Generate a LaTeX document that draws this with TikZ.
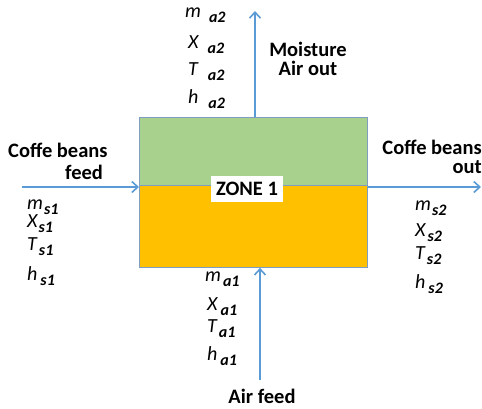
\documentclass[tikz,border=0pt]{standalone}
\usepackage{fontspec}
\setmainfont{Carlito}
\usetikzlibrary{arrows.meta}
\definecolor{zonegreen}{HTML}{A9D18E}
\definecolor{zoneorange}{HTML}{FFC000}
\definecolor{flowblue}{HTML}{5B9BD5}
\definecolor{edgeblue}{HTML}{7F9DC0}
% quantity with a lowered bold-italic subscript
\newcommand\flowq[3][1pt]{{\itshape #2}\hspace{#1}\raisebox{-5pt}{\fontsize{16}{16}\selectfont\bfseries\itshape #3}}
\tikzset{
  zonebox/.style={draw=edgeblue, line width=0.8pt, anchor=north west, inner sep=0pt},
  flow/.style={draw=flowblue, line width=1.8pt, -{Straight Barb[length=6pt,width=11pt,line width=1.6pt]}},
  caption/.style={font=\fontsize{20.5}{19}\selectfont\bfseries, inner sep=0pt},
  qty/.style={font=\fontsize{20}{20}\selectfont, inner sep=0pt, anchor=west},
}
\begin{document}
\begin{tikzpicture}[x=1pt,y=-1pt]
\useasboundingbox (0,0) rectangle (482,408);
% drying zone: air space above, bean bed below
\node[zonebox, fill=zonegreen, minimum width=228pt, minimum height=68pt] (upper) at (139,117) {};
\node[zonebox, fill=zoneorange, minimum width=228pt, minimum height=82pt] (lower) at (139,185) {};
\node[fill=white, inner xsep=5pt, inner ysep=6pt, font=\fontsize{20.5}{20}\selectfont\bfseries] (zone) at (247,189) {ZONE 1};

% stream end points
\coordinate (beansin) at (22,187);
\coordinate (beansout) at (481,187);
\coordinate (airout) at (255,11);
\coordinate (airin) at (260,380);

\draw[flow] (beansin) -- (beansin -| upper.west);
\draw[flow] (beansout -| upper.east) -- (beansout);
\draw[flow] (airout |- upper.north) -- (airout);
\draw[flow] (airin) -- (airin |- lower.south);

% stream captions
\node[caption, anchor=west] (feedA) at (8,150) {Coffe beans};
\node[caption, anchor=west] (feedB) at (65,172) {feed};
\node[caption, anchor=east, align=right] (beanscap) at (482,157) {Coffe beans\\out};
\node[caption, align=center] (moistcap) at (308,59) {Moisture\\Air out};
\node[caption] (airfeed) at (262,396) {Air feed};

% air outlet properties
\node[qty] (ma2) at (185,15) {\flowq[8pt]{m}{a2}};
\node[qty] (xa2) at (188,45) {\flowq[9pt]{X}{a2}};
\node[qty] (ta2) at (188,72) {\flowq[10pt]{T}{a2}};
\node[qty] (ha2) at (188,99) {\flowq[10pt]{h}{a2}};

% bean inlet properties
\node[qty] (ms1) at (27,207) {\flowq{m}{s1}};
\node[qty] (xs1) at (27,224) {\flowq{X}{s1}};
\node[qty] (ts1) at (27,247) {\flowq[2pt]{T}{s1}};
\node[qty] (hs1) at (27,276) {\flowq[3pt]{h}{s1}};

% bean outlet properties
\node[qty] (ms2) at (415,208) {\flowq{m}{s2}};
\node[qty] (xs2) at (415,233) {\flowq[2pt]{X}{s2}};
\node[qty] (ts2) at (415,256) {\flowq[2pt]{T}{s2}};
\node[qty] (hs2) at (415,284) {\flowq[3pt]{h}{s2}};

% air inlet properties
\node[qty] (ma1) at (205,279) {\flowq[2pt]{m}{a1}};
\node[qty] (xa1) at (207,307) {\flowq[3pt]{X}{a1}};
\node[qty] (ta1) at (207,329) {\flowq[2pt]{T}{a1}};
\node[qty] (ha1) at (207,356) {\flowq[3pt]{h}{a1}};
\end{tikzpicture}
\end{document}
